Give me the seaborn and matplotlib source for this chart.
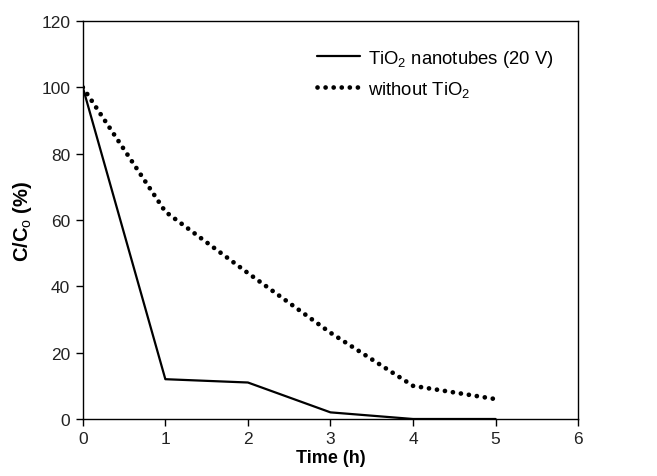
import numpy as np
import pandas as pd
import matplotlib
matplotlib.use("Agg")
import matplotlib.pyplot as plt
import seaborn as sns

time_h = [0, 1, 2, 3, 4, 5]
nanotubes = [100, 12, 11, 2, 0, 0]
without_tio2 = [100, 62.5, 44, 26, 10, 6]
label_nt = r"TiO$_2$ nanotubes (20 V)"
label_wo = r"without TiO$_2$"

sns.set_style("white")
plt.rcParams["font.family"] = ["Liberation Sans", "DejaVu Sans"]
plt.rcParams["mathtext.fontset"] = "custom"
plt.rcParams["mathtext.rm"] = "Liberation Sans"
plt.rcParams["mathtext.bf"] = "Liberation Sans:bold"
plt.rcParams["text.color"] = "black"
plt.rcParams["axes.labelcolor"] = "black"
plt.rcParams["xtick.color"] = "black"
plt.rcParams["ytick.color"] = "black"

fig = plt.figure(figsize=(6.57, 4.77), dpi=100)
ax = fig.add_axes([0.126, 0.1195, 0.754, 0.8345])

df1 = pd.DataFrame({"t": time_h, "c": nanotubes})
df2 = pd.DataFrame({"t": time_h, "c": without_tio2})
sns.lineplot(data=df1, x="t", y="c", ax=ax, color="black", lw=1.6, label=label_nt)
sns.lineplot(data=df2, x="t", y="c", ax=ax, color="black", lw=3.4,
             linestyle=(0, (0.01, 1.7)), dash_capstyle="round", label=label_wo)

ax.set_xlim(0, 6)
ax.set_ylim(0, 120)
ax.set_xticks(range(0, 7))
ax.set_yticks(range(0, 121, 20))
ax.tick_params(axis="both", labelsize=12.5, direction="out", length=5, width=1,
               color="black", labelcolor="#222222", bottom=True, left=True,
               top=False, right=False, pad=4)
for s in ax.spines.values():
    s.set_color("black")
    s.set_linewidth(1)
ax.set_xlabel("Time (h)", fontsize=13, fontweight="bold", labelpad=2)
ax.set_ylabel(r"C/C$_{\mathrm{o}}$ (%)", fontsize=14.5, fontweight="bold", labelpad=5)

leg = ax.legend(loc="upper left", bbox_to_anchor=(0.44, 0.975), frameon=False,
                fontsize=13.3, handlelength=2.3, handletextpad=0.45, labelspacing=0.55)

fig.savefig("out.png", dpi=100)
